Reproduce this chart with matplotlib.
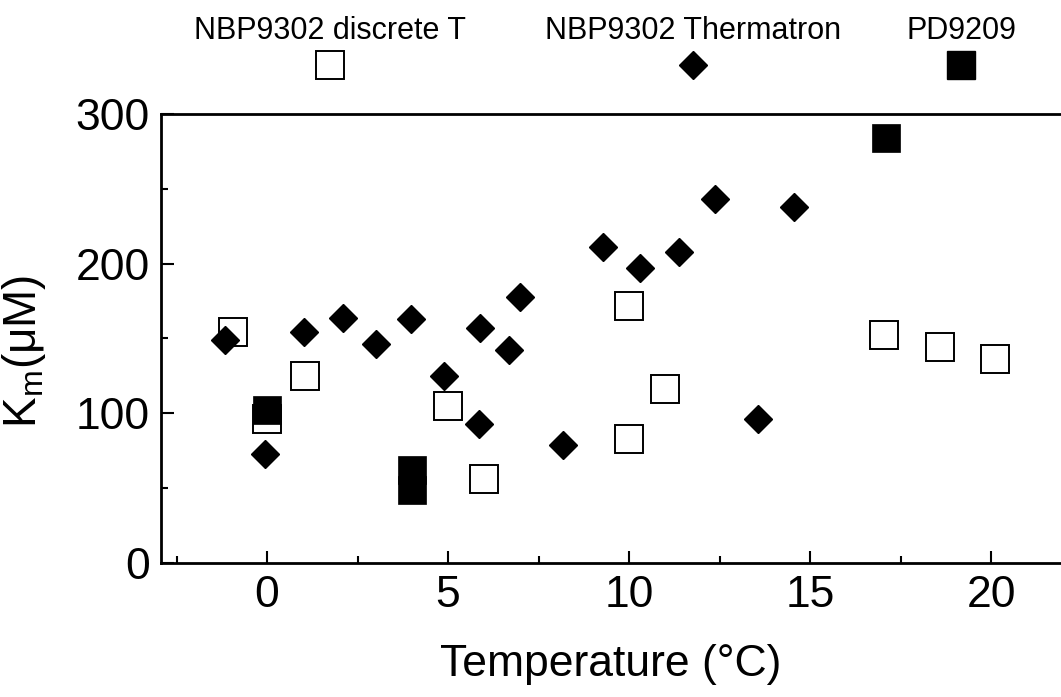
import matplotlib
matplotlib.use("Agg")
import matplotlib.pyplot as plt
from matplotlib.lines import Line2D
from matplotlib.ticker import MultipleLocator

plt.rcParams['font.family'] = ['Liberation Sans', 'DejaVu Sans']

# NBP9302 discrete T (open squares)
discrete_temp = [-0.95, 0.0, 1.05, 5.0, 6.0, 10.0, 10.0, 11.0, 17.05, 18.6, 20.1]
discrete_km = [154, 96, 125, 105, 56, 172, 83, 116, 152, 144, 136]

# NBP9302 Thermatron (filled diamonds)
thermatron_temp = [-1.15, -0.05, 1.03, 2.09, 3.02, 3.99, 4.88, 5.87, 5.85,
                   6.67, 6.99, 8.17, 9.27, 10.3, 11.37, 12.38, 13.57, 14.55]
thermatron_km = [149, 73, 154, 164, 146, 163, 125, 157, 93,
                 142, 178, 79, 211, 197, 208, 243, 96, 238]

# PD9209 (filled squares)
pd_temp = [0.0, 4.0, 4.0, 17.1]
pd_km = [102, 62, 49, 284]

series_labels = ["NBP9302 discrete T", "NBP9302 Thermatron", "PD9209"]

fig = plt.figure(figsize=(10.61, 6.97), dpi=100)
ax = fig.add_axes([0.1517, 0.1923, 0.8483, 0.6442])

sq_style = dict(marker='s', markersize=20, linestyle='none')
dia_style = dict(marker='D', markersize=14.5, linestyle='none', color='black')

ax.plot(discrete_temp, discrete_km, markerfacecolor='white',
        markeredgecolor='black', markeredgewidth=1.4, **sq_style)
ax.plot(thermatron_temp, thermatron_km, **dia_style)
ax.plot(pd_temp, pd_km, markerfacecolor='black', markeredgecolor='black',
        markeredgewidth=0.5, **sq_style)

ax.set_xlim(-2.93, 21.93)
ax.set_ylim(0, 300)
ax.xaxis.set_major_locator(MultipleLocator(5))
ax.xaxis.set_minor_locator(MultipleLocator(2.5))
ax.yaxis.set_major_locator(MultipleLocator(100))
ax.yaxis.set_minor_locator(MultipleLocator(50))

for side in ['left', 'bottom', 'top']:
    ax.spines[side].set_linewidth(2)
ax.spines['right'].set_visible(False)

ax.tick_params(which='both', direction='in', width=1.5, labelsize=32)
ax.tick_params(which='major', length=9)
ax.tick_params(which='minor', length=5)
ax.tick_params(axis='x', which='both', top=False, pad=9)
ax.tick_params(axis='y', which='both', right=False, pad=8)

ax.set_xlabel("Temperature (°C)", fontsize=32, labelpad=20)
ax.set_ylabel("K$_\\mathregular{m}$(μM)", fontsize=33, labelpad=14)
ax.yaxis.set_label_coords(-0.125, 0.472)

# legend above the plot: text with its marker underneath
legend_x = [0.311, 0.653, 0.906]
legend_markers = [
    dict(marker='s', markersize=20, markerfacecolor='white',
         markeredgecolor='black', markeredgewidth=1.4),
    dict(marker='D', markersize=14.5, color='black'),
    dict(marker='s', markersize=20, markerfacecolor='black',
         markeredgecolor='black'),
]
for lx, label, mk in zip(legend_x, series_labels, legend_markers):
    fig.text(lx, 0.956, label, ha='center', va='center', fontsize=22)
    fig.add_artist(Line2D([lx], [0.907], transform=fig.transFigure,
                          linestyle='none', **mk))

fig.savefig("out.png", dpi=100)
